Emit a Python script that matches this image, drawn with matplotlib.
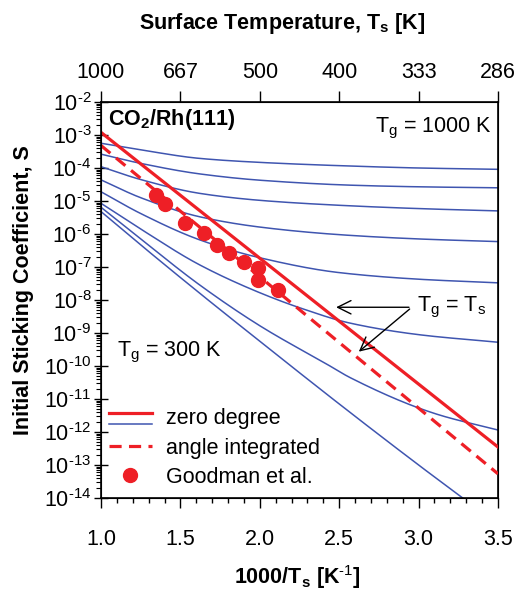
import numpy as np
import matplotlib
matplotlib.use("Agg")
import matplotlib.pyplot as plt
from matplotlib.lines import Line2D
from matplotlib.legend_handler import HandlerBase
from matplotlib.ticker import FixedLocator, NullFormatter, LogLocator, MultipleLocator

plt.rcParams['font.family'] = ['Liberation Sans', 'DejaVu Sans']
plt.rcParams['mathtext.fontset'] = 'custom'
plt.rcParams['mathtext.rm'] = 'Liberation Sans'
plt.rcParams['mathtext.it'] = 'Liberation Sans'
plt.rcParams['mathtext.bf'] = 'Liberation Sans:bold'

# ---------------- data ----------------
# red lines (Tg = Ts)
zero_x = [1.0, 3.5]
zero_S = [1.2e-3, 3.5e-13]
angle_x = [1.0, 3.5]
angle_S = [4.8e-4, 5.4e-14]

# Goodman et al. experimental points
good_x = [1.344, 1.403, 1.529, 1.651, 1.730, 1.806, 1.900, 1.990, 1.990, 2.117]
good_S = [1.5e-5, 8.1e-6, 2.2e-6, 1.1e-6, 4.8e-7, 2.6e-7, 1.44e-7, 9.1e-8, 4.1e-8, 2.0e-8]

# blue curves, Tg = 1000 K (top) ... 300 K (bottom); values are log10(S)
tg_labels = [1000, 900, 800, 700, 600, 500, 400, 300]
c1000_x = [1.0, 1.25, 1.623, 2.0, 2.568, 3.0, 3.5]
c1000_logS = [-3.25, -3.45, -3.71, -3.83, -3.94, -4.00, -4.04]
c900_x = [1.0, 1.25, 1.623, 2.0, 2.568, 3.0, 3.5]
c900_logS = [-3.58, -3.86, -4.18, -4.37, -4.52, -4.57, -4.60]
c800_x = [1.0, 1.25, 1.623, 2.0, 2.5, 3.0, 3.5]
c800_logS = [-3.96, -4.35, -4.77, -4.98, -5.13, -5.23, -5.30]
c700_x = [1.0, 1.25, 1.623, 2.0, 2.5, 3.0, 3.5]
c700_logS = [-4.36, -4.90, -5.48, -5.79, -6.02, -6.15, -6.23]
c600_x = [1.0, 1.25, 1.623, 2.0, 2.5, 3.0, 3.5]
c600_logS = [-4.72, -5.38, -6.18, -6.72, -7.17, -7.37, -7.48]
c500_x = [1.0, 1.25, 1.623, 2.0, 2.26, 2.568, 3.0, 3.5]
c500_logS = [-5.07, -5.85, -6.94, -7.78, -8.25, -8.70, -9.05, -9.28]
c400_x = [1.0, 1.25, 1.623, 2.0, 2.442, 2.568, 3.108, 3.5]
c400_logS = [-5.19, -6.15, -7.55, -8.78, -10.00, -10.35, -11.45, -11.94]
c300_x = [1.0, 1.25, 1.623, 2.0, 2.5, 3.0, 3.3]
c300_logS = [-5.32, -6.33, -7.80, -9.25, -11.15, -13.00, -14.08]

blue_x = [c1000_x, c900_x, c800_x, c700_x, c600_x, c500_x, c400_x, c300_x]
blue_logS = [c1000_logS, c900_logS, c800_logS, c700_logS, c600_logS, c500_logS, c400_logS, c300_logS]

top_ticks = [1.0, 1.5, 2.0, 2.5, 3.0, 3.5]
top_labels = ['1000', '667', '500', '400', '333', '286']
bottom_labels = ['1.0', '1.5', '2.0', '2.5', '3.0', '3.5']
y_exps = list(range(-14, -1))

RED = '#ee1f26'
BLUE = '#3f55b0'


def smooth_path(xs, ys, n=300):
    """Monotone cubic (Fritsch-Carlson) rendering of the read points."""
    x = np.asarray(xs, float)
    y = np.asarray(ys, float)
    h = np.diff(x)
    d = np.diff(y) / h
    m = np.zeros_like(y)
    m[0], m[-1] = d[0], d[-1]
    for i in range(1, len(x) - 1):
        if d[i - 1] * d[i] <= 0:
            m[i] = 0.0
        else:
            w1 = 2 * h[i] + h[i - 1]
            w2 = h[i] + 2 * h[i - 1]
            m[i] = (w1 + w2) / (w1 / d[i - 1] + w2 / d[i])
    xx = np.linspace(x[0], x[-1], n)
    idx = np.clip(np.searchsorted(x, xx) - 1, 0, len(x) - 2)
    t = (xx - x[idx]) / h[idx]
    h00 = 2 * t**3 - 3 * t**2 + 1
    h10 = t**3 - 2 * t**2 + t
    h01 = -2 * t**3 + 3 * t**2
    h11 = t**3 - t**2
    yy = h00 * y[idx] + h10 * h[idx] * m[idx] + h01 * y[idx + 1] + h11 * h[idx] * m[idx + 1]
    return xx, yy


# ---------------- figure ----------------
fig = plt.figure(figsize=(5.27, 5.91), dpi=100)
ax = fig.add_axes([101/527, 1-498/591, 397/527, 396/591])
ax.set_yscale('log')
ax.set_xlim(1.0, 3.5)
ax.set_ylim(1e-14, 1e-2)

for xs, ls in zip(blue_x, blue_logS):
    sx, sy = smooth_path(xs, ls)
    ax.plot(sx, 10**sy, color=BLUE, lw=1.1, zorder=2)

ax.plot(zero_x, zero_S, color=RED, lw=2.3, zorder=3)
ax.plot(angle_x, angle_S, color=RED, lw=2.3, dashes=(3.8, 2.3), zorder=3)
ax.plot(good_x, good_S, 'o', color=RED, ms=10, mec=RED, zorder=4)

# ticks
ax.xaxis.set_major_locator(FixedLocator(top_ticks))
ax.set_xticklabels(bottom_labels)
ax.xaxis.set_minor_locator(MultipleLocator(0.1))
ax.tick_params(axis='x', which='major', direction='out', length=7, width=1, pad=15, labelsize=15.5, top=False)
ax.tick_params(axis='x', which='minor', direction='out', length=3.5, width=1, top=False)

ax.yaxis.set_major_locator(FixedLocator([10.0**e for e in y_exps]))
ax.set_yticklabels([r'$10^{\text{-%d}}$' % (-e) for e in y_exps])
ax.yaxis.set_minor_locator(LogLocator(base=10, subs=np.arange(2, 10), numticks=100))
ax.yaxis.set_minor_formatter(NullFormatter())
ax.tick_params(axis='y', which='major', direction='inout', length=10, width=1, pad=2, labelsize=15.5, right=False)
ax.tick_params(axis='y', which='minor', direction='out', length=3.5, width=0.8, right=False)
for s in ax.spines.values():
    s.set_linewidth(1.2)

ax2 = ax.twiny()
ax2.set_xlim(ax.get_xlim())
ax2.xaxis.set_major_locator(FixedLocator(top_ticks))
ax2.set_xticklabels(top_labels)
ax2.tick_params(axis='x', which='major', direction='out', length=8, width=1, pad=6, labelsize=15.5)
ax2.xaxis.set_minor_locator(FixedLocator([]))

# axis labels
fig.text(282/527, 1-23/591, r'Surface Temperature, T$_\mathbf{s}$ [K]', ha='center', va='center',
         fontsize=15.5, fontweight='bold')
fig.text(297/527, 1-577/591, r'1000/T$_\mathbf{s}$ [K$^\mathbf{\text{-1}}$]', ha='center', va='center',
         fontsize=15.5, fontweight='bold')
fig.text(24/527, 1-290/591, 'Initial Sticking Coefficient, S', ha='center', va='center',
         rotation=90, fontsize=15.5, fontweight='bold')

# annotations
ax.text(0.018, 0.955, r'CO$_\mathbf{2}$/Rh(111)', transform=ax.transAxes, ha='left', va='center',
        fontsize=15.5, fontweight='bold')
ax.text(0.985, 0.933, r'T$_\mathrm{g}$ = 1000 K', transform=ax.transAxes, ha='right', va='center', fontsize=15.5)
ax.text(0.04, 0.368, r'T$_\mathrm{g}$ = 300 K', transform=ax.transAxes, ha='left', va='center', fontsize=15.5)
ax.text(2.99, 10**-8.22, r'T$_\mathrm{g}$ = T$_\mathrm{s}$', ha='left', va='center', fontsize=15.5)
arrow_kw = dict(arrowstyle='->', color='black', lw=1.0, mutation_scale=24)
ax.annotate('', xy=(2.463, 10**-8.22), xytext=(2.957, 10**-8.22), arrowprops=arrow_kw)
ax.annotate('', xy=(2.610, 10**-9.62), xytext=(2.957, 10**-8.22), arrowprops=arrow_kw)


# legend
class HandlerTwoLines(HandlerBase):
    def create_artists(self, legend, orig_handle, xdescent, ydescent, width, height, fontsize, trans):
        y1 = 0.72 * height
        y2 = 0.02 * height
        l1 = Line2D([-xdescent, width - xdescent], [y1, y1], color=RED, lw=2.3)
        l2 = Line2D([-xdescent, width - xdescent], [y2, y2], color=BLUE, lw=1.1)
        l1.set_transform(trans)
        l2.set_transform(trans)
        return [l1, l2]


h_zero = Line2D([], [], color=RED)
h_angle = Line2D([], [], color=RED, lw=2.3, dashes=(3.8, 2.3))
h_good = Line2D([], [], ls='none', marker='o', ms=10, color=RED)
leg = ax.legend([h_zero, h_angle, h_good], ['zero degree', 'angle integrated', 'Goodman et al.'],
                handler_map={h_zero: HandlerTwoLines()}, loc='lower left',
                bbox_to_anchor=(-0.018, -0.012), frameon=False, fontsize=15.5, handlelength=2.0,
                handletextpad=0.65, labelspacing=0.38, borderaxespad=0.3)

fig.savefig('out.png', dpi=100)
